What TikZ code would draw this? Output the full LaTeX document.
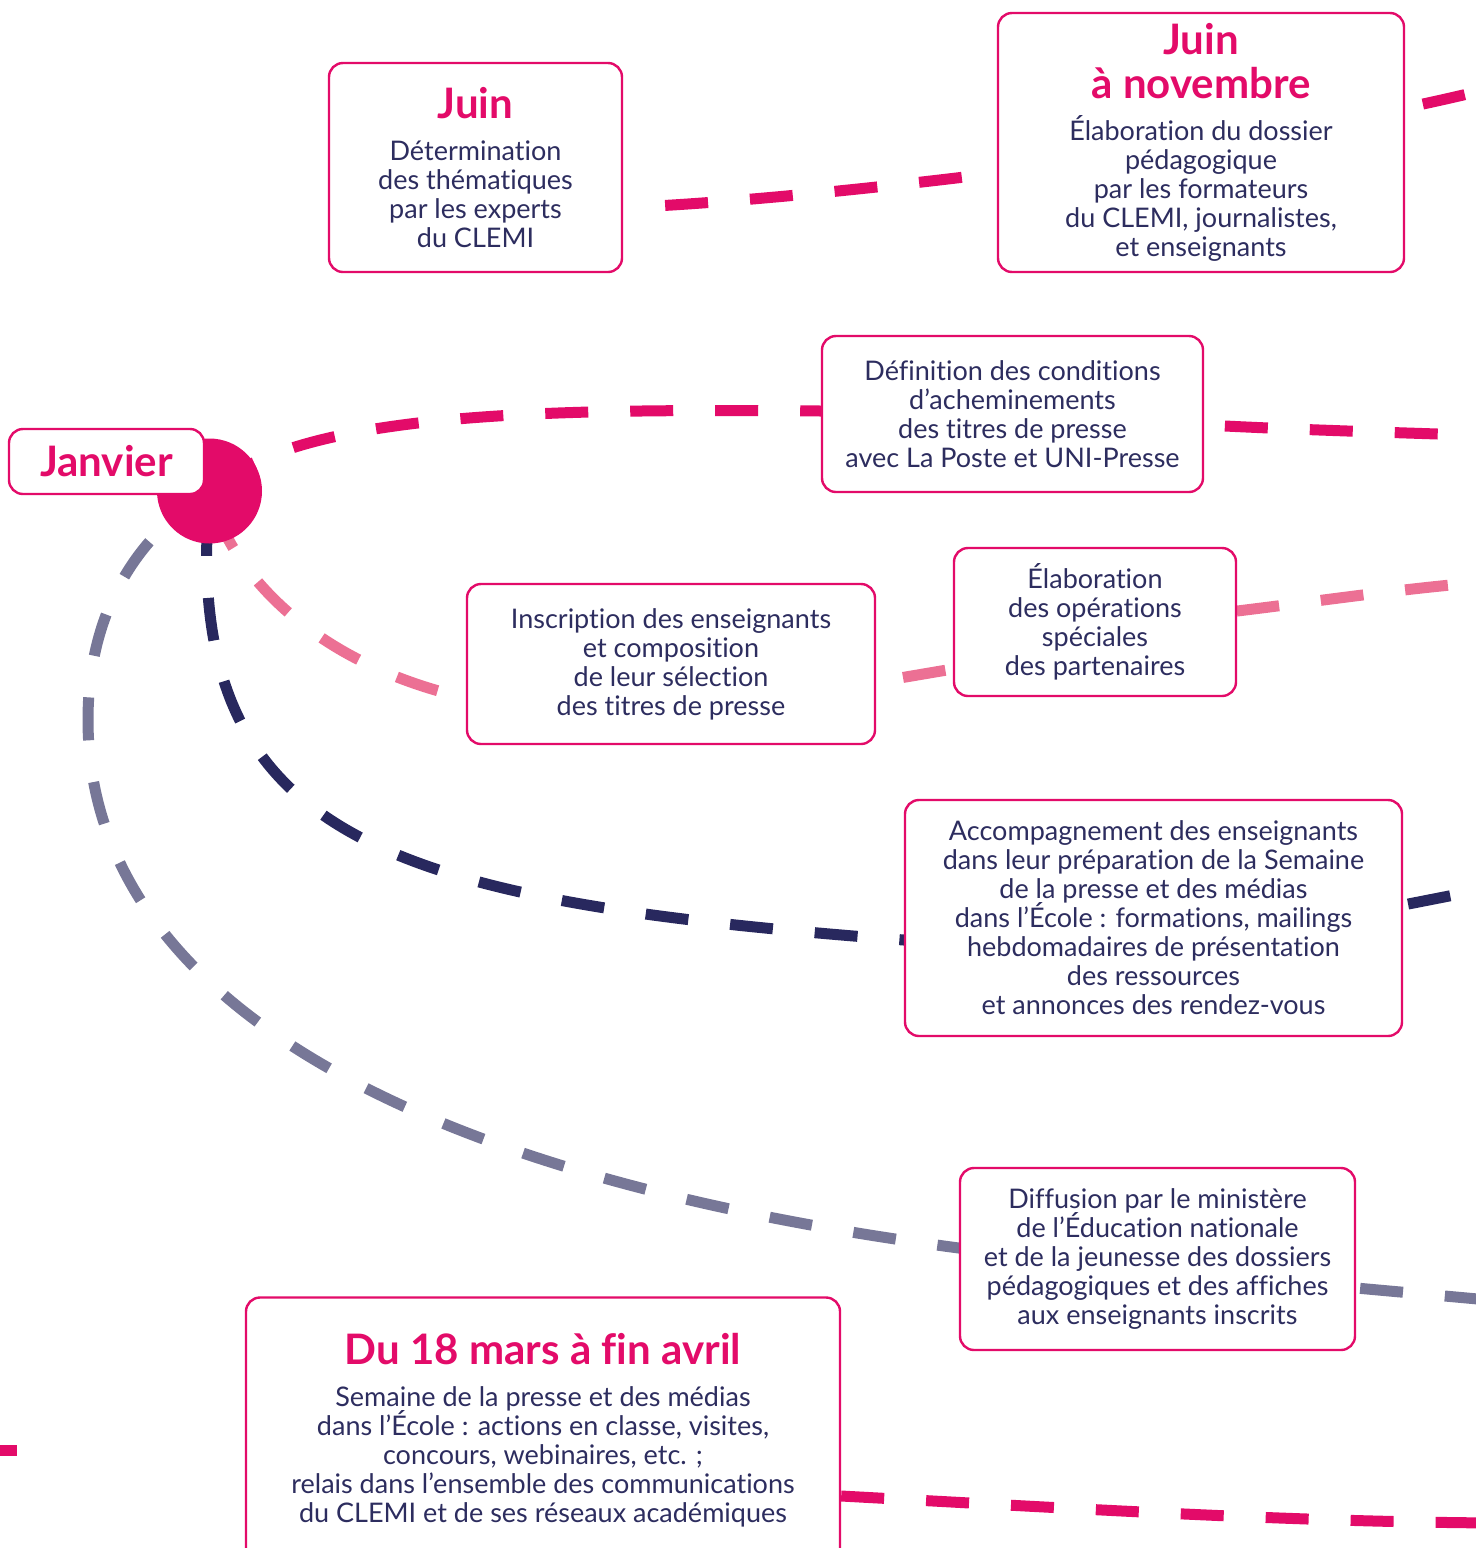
\documentclass[tikz,border=0pt]{standalone}
\usepackage{fontspec}
\setmainfont{Lato}[Ligatures={NoCommon}]
\usetikzlibrary{backgrounds,calc}

\definecolor{clemirose}{HTML}{E30B69}
\definecolor{clemirosepale}{HTML}{EC7094}
\definecolor{cleminuit}{HTML}{28285E}
\definecolor{clemigris}{HTML}{777797}
\definecolor{clemitexte}{HTML}{2D2D5F}

\newcommand\corps{\fontsize{13.5}{14.5}\selectfont\lineskiplimit=-100pt\relax}
\newcommand\titre{\fontsize{21}{22}\selectfont\bfseries\color{clemirose}}

\begin{document}
\begin{tikzpicture}[x=0.5pt,y=-0.5pt,
	etape/.style={draw=clemirose,line width=1.2pt,rounded corners=7pt,fill=white,
		align=center,text=clemitexte,font=\corps,inner sep=0pt},
	trait/.style={line width=5.5pt,dash pattern=on 21.5pt off 21pt}]
	\useasboundingbox (0,0) rectangle (1476,1548);

	\node(juin)[etape,minimum width=146.5pt,minimum height=104.5pt] at (475.5,167.5)
		{{\titre Juin}\\[6.5pt]Détermination\\des thématiques\\par les experts\\du CLEMI};
	\node(jnov)[etape,minimum width=203pt,minimum height=129.5pt] at (1201,142.5)
		{{\titre Juin}\\[7.5pt]{\titre à novembre}\\[6.5pt]Élaboration du dossier\\pédagogique\\par les formateurs\\du CLEMI, journalistes,\\et enseignants};
	\node(defi)[etape,minimum width=190.5pt,minimum height=78pt] at (1012.5,414)
		{Définition des conditions\\d’acheminements\\des titres de presse\\avec La Poste et UNI-Presse};
	\node(elab)[etape,minimum width=141pt,minimum height=74pt] at (1095,622)
		{Élaboration\\des opérations\\spéciales\\des partenaires};
	\node(insc)[etape,minimum width=204pt,minimum height=80pt] at (671,664)
		{Inscription des enseignants\\et composition\\de leur sélection\\des titres de presse};
	\node(acc)[etape,minimum width=248.5pt,minimum height=118pt] at (1153.5,918)
		{Accompagnement des enseignants\\dans leur préparation de la Semaine\\de la presse et des médias\\dans l’École : formations, mailings\\hebdomadaires de présentation\\des ressources\\et annonces des rendez-vous};
	\node(diff)[etape,minimum width=197.5pt,minimum height=91pt] at (1157.5,1259)
		{Diffusion par le ministère\\de l’Éducation nationale\\et de la jeunesse des dossiers\\pédagogiques et des affiches\\aux enseignants inscrits};
	\node(mars)[etape,minimum width=297pt,minimum height=132.5pt] at (543,1430)
		{{\titre Du 18 mars à fin avril}\\[6.5pt]Semaine de la presse et des médias\\dans l’École : actions en classe, visites,\\concours, webinaires, etc. ;\\relais dans l’ensemble des communications\\du CLEMI et de ses réseaux académiques};

	\node(jan)[circle,fill=clemirose,minimum size=52.5pt,inner sep=0pt] at (209.5,491) {};
	\node(janlabel)[etape,minimum width=97.5pt,minimum height=32.5pt] at (106.5,461.5) {\titre Janvier};

	\coordinate (finA) at (1500,86);
	\coordinate (finB) at (1500,436);
	\coordinate (finC) at (1500,581);
	\coordinate (finD) at (1500,886);
	\coordinate (virage) at (88,720);
	\coordinate (finE) at (1500,1301);
	\coordinate (bordG) at (-26,1450);
	\coordinate (boutG) at (17,1450);
	\coordinate (finG) at (1500,1523);

	\begin{scope}[on background layer]
		\clip (0,0) rectangle (1476,1548);
		\draw[trait,clemirose,dash phase=21.5pt] ($(juin.east)+(0,40)$) .. controls (800,201) and (1250,150) .. (finA);
		\draw[trait,clemirose,dash phase=37.5pt] (jan.center) .. controls (300,410) and (550,409) .. ($(defi.west)+(0,-3)$)
			-- (defi.center) .. controls (1250,428) .. (finB);
		\draw[trait,clemirosepale,dash phase=33pt] (jan.center) .. controls (225,560) and (300,660) .. ($(insc.west)+(0,34)$)
			-- ($(insc.east)+(0,18)$) -- ($(elab.west)+(0,47)$) -- ($(elab.east)+(0,-11)$)
			.. controls (1320,601) and (1420,586) .. (finC);
		\draw[trait,cleminuit,dash phase=31.5pt] (jan.center) .. controls (180,840) and (380,900) .. ($(acc.west)+(0,22)$)
			-- ($(acc.east)+(0,-13)$) -- (finD);
		\draw[trait,clemigris,dash phase=3pt] (jan.center) .. controls (130,540) and (88,620) .. (virage)
			.. controls (88,960) and (330,1165) .. ($(diff.west)+(0,-11)$)
			-- ($(diff.east)+(0,29)$) -- (finE);
		\draw[trait,clemirose] (bordG) -- (boutG);
		\draw[trait,clemirose] ($(mars.east)+(0,66)$) .. controls (1100,1510) and (1300,1522) .. (finG);
	\end{scope}
\end{tikzpicture}
\end{document}
